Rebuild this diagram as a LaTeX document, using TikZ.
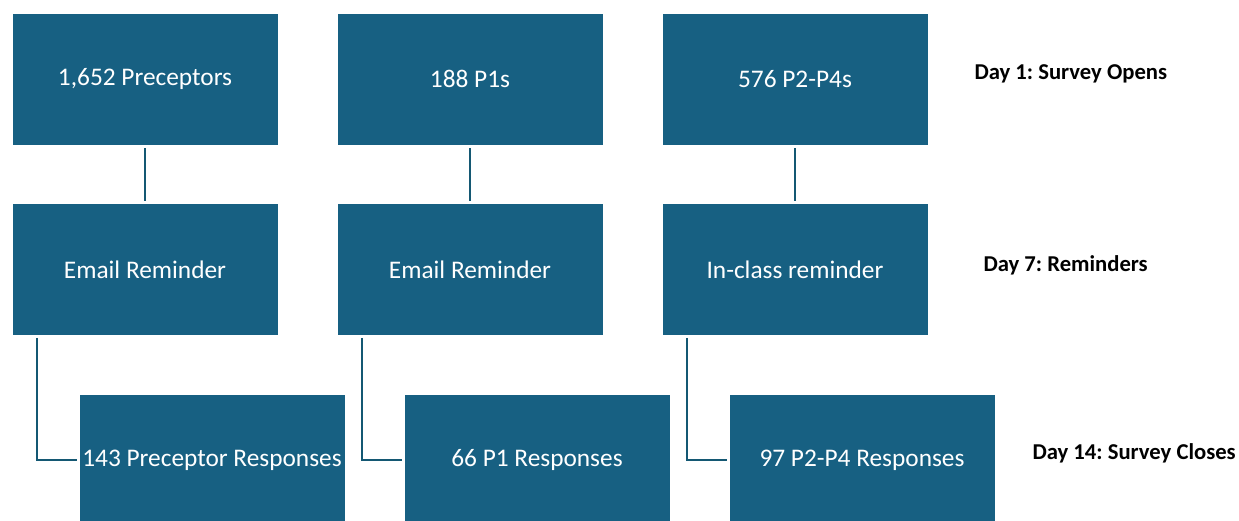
\documentclass[tikz,border=0pt]{standalone}
\usepackage{fontspec}
\setmainfont{Carlito}
\frenchspacing
\usetikzlibrary{calc}
\definecolor{boxblue}{RGB}{23,96,130}
\definecolor{linkblue}{RGB}{20,88,115}
\tikzset{every picture/.style={line width=0.75pt}}
\tikzset{
  stagebox/.style={rectangle, fill=boxblue, draw=white, line width=0.5pt, minimum width=266*0.75pt, minimum height=132*0.75pt, inner sep=0pt, text=white, font=\fontsize{19}{23}\selectfont},
  daylabel/.style={anchor=west, inner sep=0pt, font=\fontsize{17}{20}\selectfont\bfseries},
  link/.style={draw=linkblue, line width=1.5pt}
}

\begin{document}
\begin{tikzpicture}[x=0.75pt,y=0.75pt,yscale=-1,xscale=1]
%set diagram to 1239 x 521
\useasboundingbox (0,0) rectangle (1239,521);

% Day 1 row
\node [stagebox] (pre) at (145,79) {1,652 Preceptors};
\node [stagebox] (pone) at (470,79) {188 P1s};
\node [stagebox] (ptwo) at (795,79) {576 P2-P4s};

% Day 7 row
\node [stagebox] (remA) at (145,269.5) {Email Reminder};
\node [stagebox] (remB) at (470,269.5) {Email Reminder};
\node [stagebox] (remC) at (795,269.5) {In-class reminder};

% Day 14 row
\node [stagebox] (resA) at (212,460) {143 Preceptor Responses};
\node [stagebox] (resB) at (537,460) {66 P1 Responses};
\node [stagebox] (resC) at (862,460) {97 P2-P4 Responses};

% Text Node
\node [daylabel] (dayone) at (974,74) {Day 1: Survey Opens};
% Text Node
\node [daylabel] (dayseven) at (983,265) {Day 7: Reminders};
% Text Node
\node [daylabel] (dayfourteen) at (1032,453) {Day 14: Survey Closes};

% Straight Lines
\draw [link, shorten <=2pt, shorten >=1.5pt] (pre.south) -- (remA.north);
\draw [link, shorten <=2pt, shorten >=1.5pt] (pone.south) -- (remB.north);
\draw [link, shorten <=2pt, shorten >=1.5pt] (ptwo.south) -- (remC.north);

% Elbow Lines
\draw [link, shorten >=1.5pt] ($(remA.south west)+(25,2)$) |- (resA.west);
\draw [link, shorten >=1.5pt] ($(remB.south west)+(25,2)$) |- (resB.west);
\draw [link, shorten >=1.5pt] ($(remC.south west)+(25,2)$) |- (resC.west);

\end{tikzpicture}
\end{document}
